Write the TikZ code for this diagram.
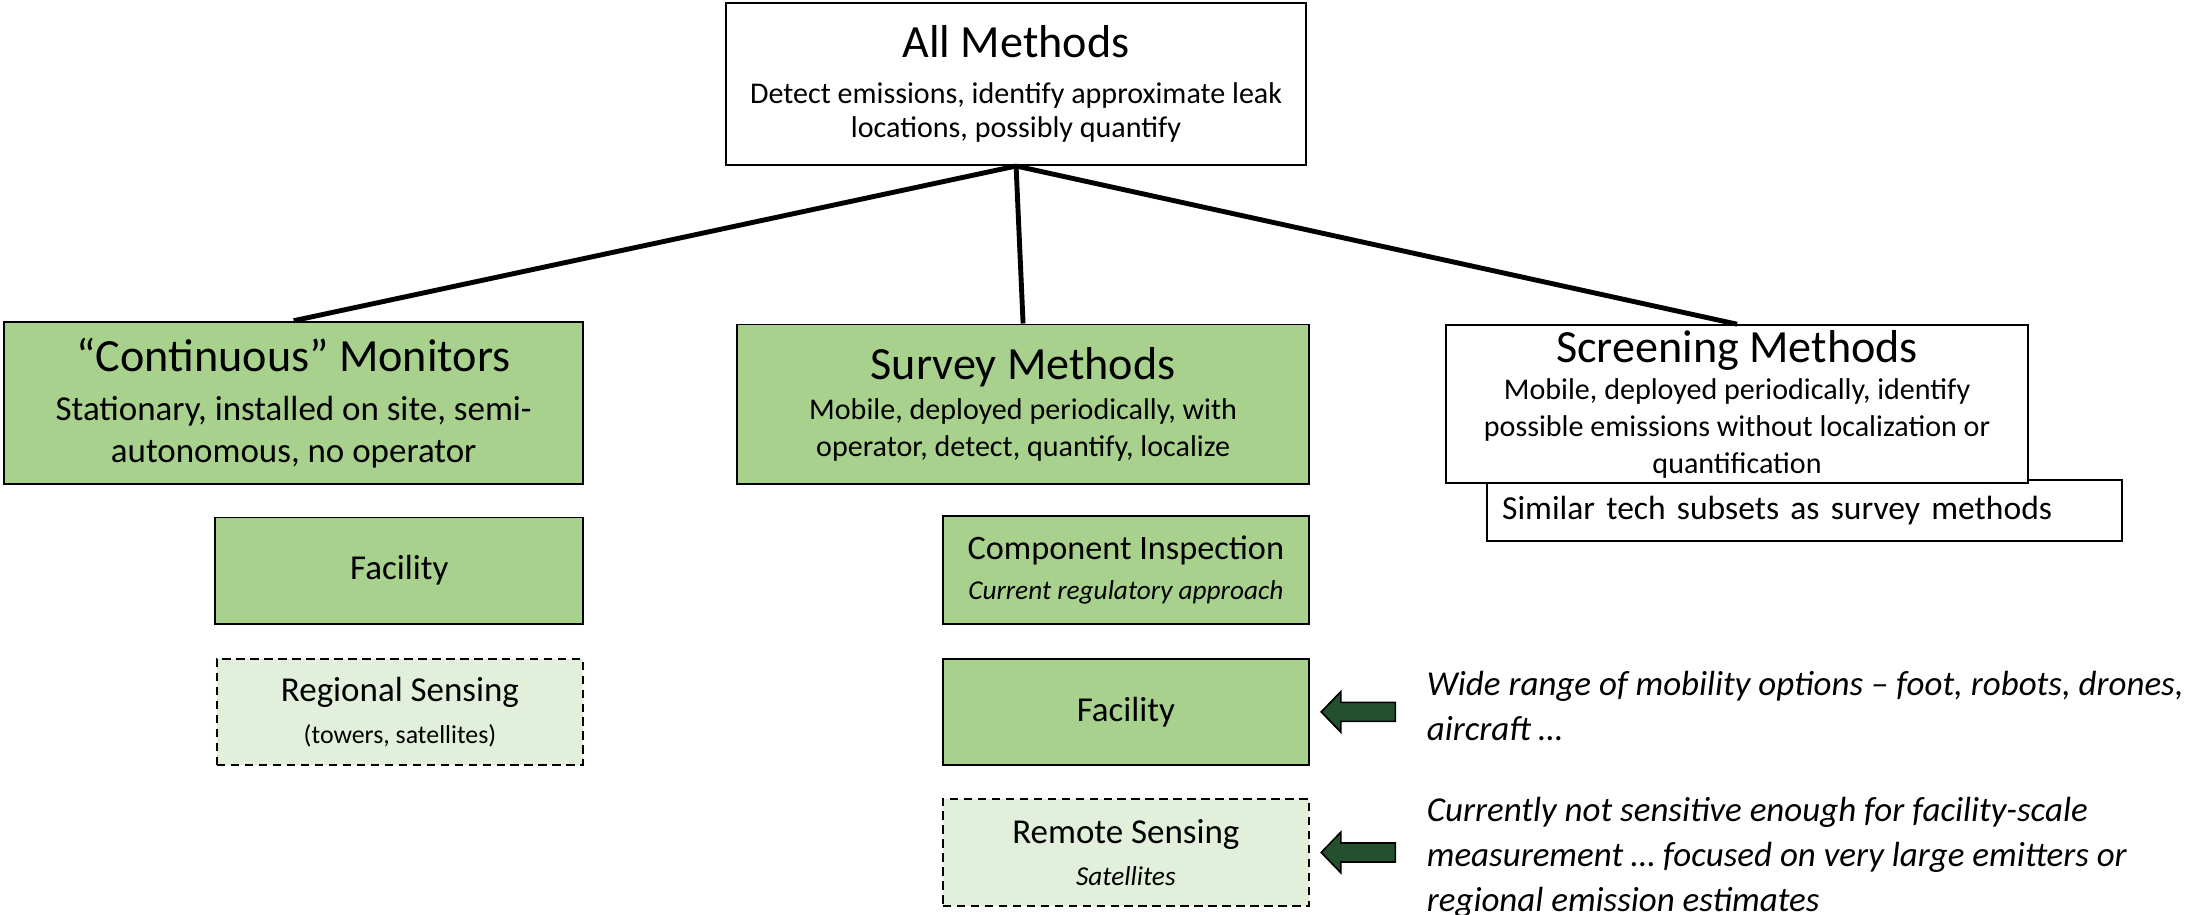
\documentclass[tikz,border=0pt]{standalone}
\usepackage{fontspec}
\setmainfont{Carlito}
\definecolor{boxgreen}{HTML}{A9D18E}
\definecolor{lightgreen}{HTML}{E2EFDA}
\definecolor{arrowgreen}{HTML}{24502D}
\newcommand{\boxtitle}[1]{{\fontsize{33}{38}\selectfont #1}}
\begin{document}
\begin{tikzpicture}[x=1pt,y=-1pt,
  box/.style={draw=black, line width=1.4pt, rectangle, inner sep=0pt, align=center, text=black},
  greenbox/.style={box, fill=boxgreen},
  whitebox/.style={box, fill=white},
  dashbox/.style={box, fill=lightgreen, dash pattern=on 6pt off 4pt},
  conn/.style={line width=3.5pt},
  blockarrow/.style={fill=arrowgreen, draw=black, line width=1.2pt, line join=miter},
  note/.style={anchor=west, align=left, font=\fontsize{25}{32}\selectfont\itshape, inner sep=0pt}
]
\useasboundingbox (0,0) rectangle (1568,654);

% top
\node[whitebox, minimum width=415pt, minimum height=116pt, font=\fontsize{21.5}{24}\selectfont]
  (all) at (726.5,60) {\boxtitle{All Methods}\\[9pt] Detect emissions, identify approximate leak\\ locations, possibly quantify};

% second row
\node[greenbox, minimum width=414pt, minimum height=116pt, font=\fontsize{25}{30}\selectfont]
  (cont) at (210,288) {\boxtitle{“Continuous” Monitors}\\[5pt] Stationary, installed on site, semi-\\ autonomous, no operator};
\node[greenbox, minimum width=409pt, minimum height=114pt, font=\fontsize{21.5}{26}\selectfont]
  (survey) at (731.5,289) {\boxtitle{Survey Methods}\\[3pt] Mobile, deployed periodically, with\\ operator, detect, quantify, localize};
\node[whitebox, minimum width=454pt, minimum height=44pt, text width=432pt, align=left, font=\fontsize{24}{28}\selectfont]
  (similar) at (1290,365) {Similar tech subsets as survey methods};
\node[whitebox, minimum width=416pt, minimum height=113pt, font=\fontsize{21.5}{26.5}\selectfont]
  (screen) at (1242,289) {\boxtitle{Screening Methods}\\ Mobile, deployed periodically, identify\\ possible emissions without localization or\\ quantification};

% connectors
\draw[conn] (all.south) -- (cont.north);
\draw[conn] (all.south) -- (survey.north);
\draw[conn] (all.south) -- (screen.north);

% left column
\node[greenbox, minimum width=263pt, minimum height=76pt, font=\fontsize{25}{30}\selectfont]
  (fac1) at (285.5,408) {Facility};
\node[dashbox, minimum width=262pt, minimum height=76pt, font=\fontsize{25}{30}\selectfont]
  (regional) at (286,509) {Regional Sensing\\ {\fontsize{18.5}{22}\selectfont (towers, satellites)}};

% middle column
\node[greenbox, minimum width=262pt, minimum height=77pt, font=\fontsize{24.5}{29}\selectfont]
  (comp) at (805,407.5) {Component Inspection\\ {\fontsize{19.5}{23}\selectfont\itshape Current regulatory approach}};
\node[greenbox, minimum width=262pt, minimum height=76pt, font=\fontsize{25}{30}\selectfont]
  (fac2) at (805,509) {Facility};
\node[dashbox, minimum width=262pt, minimum height=77pt, font=\fontsize{25}{30}\selectfont]
  (remote) at (805,609.5) {Remote Sensing\\ {\fontsize{19.5}{23}\selectfont\itshape Satellites}};

% block arrows
\coordinate (a1) at ([xshift=8pt]fac2.east);
\coordinate (a2) at ([xshift=8pt]remote.east);
\foreach \t in {a1,a2}{
  \filldraw[blockarrow] (\t) -- ++(14,-14.5) -- ++(0,7.7) -- ++(39,0) -- ++(0,13.6) -- ++(-39,0) -- ++(0,7.7) -- cycle;
}

% notes
\node[note] (n1) at (1020,505) {Wide range of mobility options – foot, robots, drones,\\ aircraft …};
\node[note] (n2) at (1020,613) {Currently not sensitive enough for facility-scale\\ measurement … focused on very large emitters or\\ regional emission estimates};
\end{tikzpicture}
\end{document}
